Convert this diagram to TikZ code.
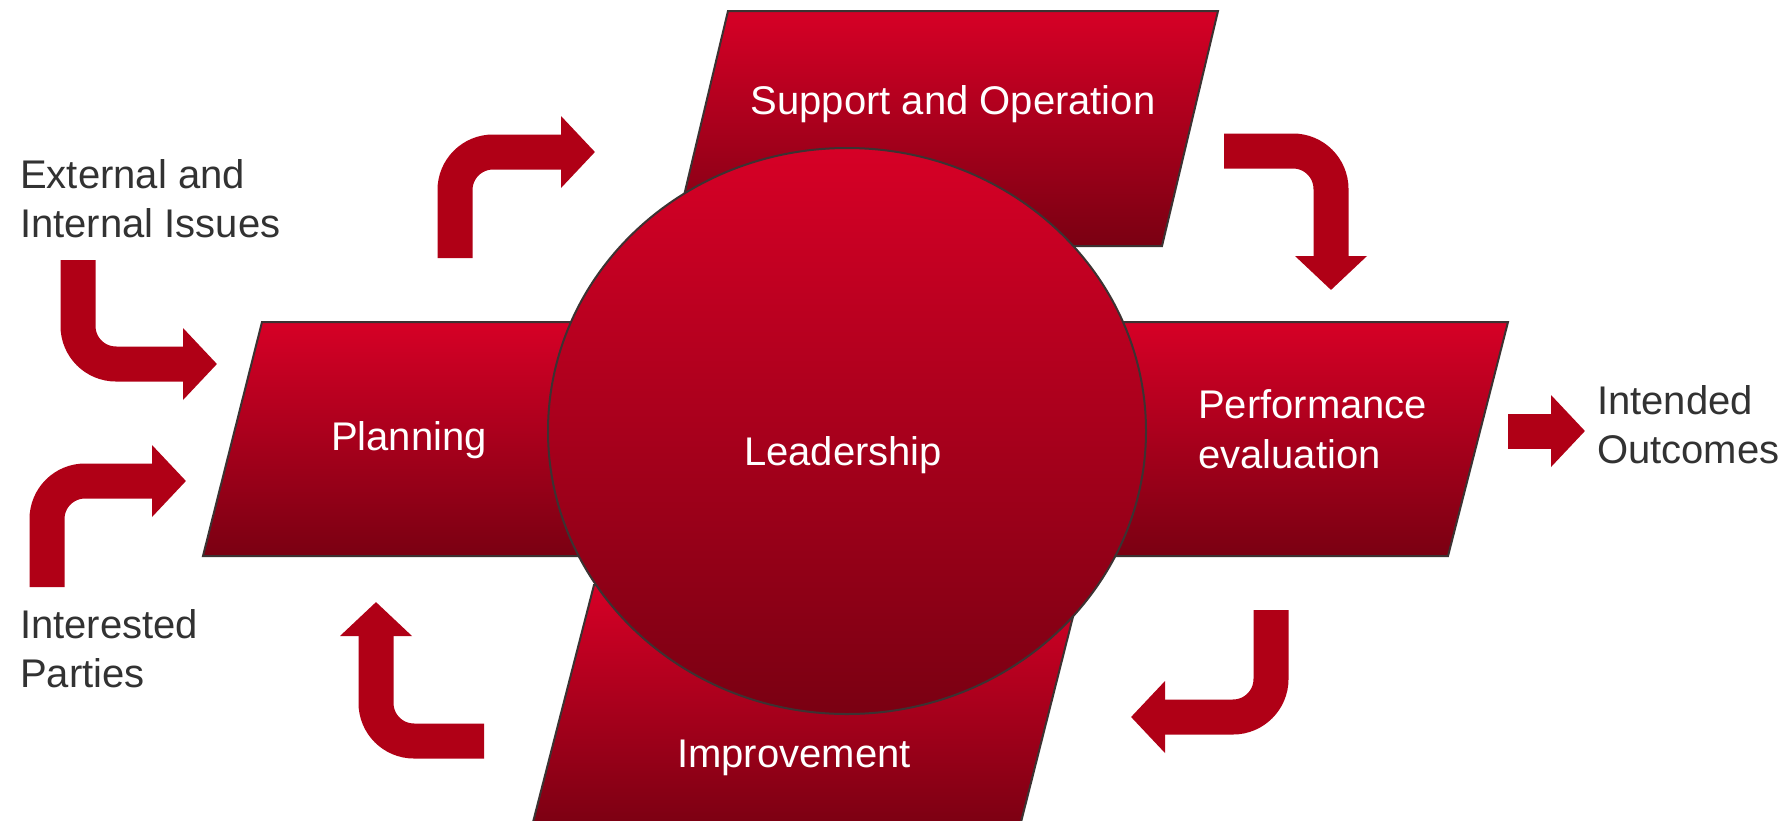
\documentclass[tikz,border=0pt]{standalone}
\usepackage{fontspec}
\setmainfont{Liberation Sans}
\usetikzlibrary{arrows.meta,shapes.geometric}
\definecolor{rtop}{RGB}{214,0,38}
\definecolor{rmid}{RGB}{194,0,31}
\definecolor{rbot}{RGB}{122,0,18}
\definecolor{arrowred}{RGB}{176,0,22}
\definecolor{edgec}{RGB}{60,50,50}
\definecolor{txtc}{RGB}{50,50,50}
\begin{document}
\begin{tikzpicture}[x=1pt,y=-1pt,
  panel/.style={draw=edgec, line width=2pt, top color=rtop, middle color=rmid, bottom color=rbot},
  bigarrow/.style={draw=arrowred, line width=35pt, rounded corners=38pt, -{Triangle[length=34pt,width=70pt]}},
  wtext/.style={text=white, font=\fontsize{40}{50}\selectfont, inner sep=0pt},
  dtext/.style={text=txtc, font=\fontsize{40}{49}\selectfont, inner sep=0pt, align=left},
]
\useasboundingbox (0,0) rectangle (1791,820);
\fill[white] (0,0) rectangle (1791,820);

% panels
\path[panel] (728,11) -- (1218,11) -- (1162,246) -- (672,246) -- cycle;
\path[panel] (262,322) -- (720,322) -- (661,556) -- (203,556) -- cycle;
\path[panel] (1050,322) -- (1508,322) -- (1448,556) -- (990,556) -- cycle;
\path[panel] (594,585) -- (1081,585) -- (1019,830) -- (531,830) -- cycle;

% central ellipse
\node[ellipse, panel, minimum width=598pt, minimum height=566pt, inner sep=0pt] (lead) at (847,431) {};

% texts
\node[wtext] (sup) at (953,104) {Support and Operation};
\node[wtext] (plan) at (409,440) {Planning};
\node[wtext] (leadt) at (843,455) {Leadership};
\node[wtext] (imp) at (794,758) {Improvement};
\node[wtext, align=left, anchor=base west] (perf) at (1198,468) {Performance\\evaluation};
\node[dtext, anchor=base west] (ext) at (20,237) {External and\\Internal Issues};
\node[dtext, anchor=base west] (intp) at (20,687) {Interested\\Parties};
\node[dtext, anchor=base west] (outc) at (1597,463) {Intended\\Outcomes};

% arrows
\coordinate (a1s) at (78,260);   \coordinate (a1c) at (78,364);   \coordinate (a1e) at (217,364);
\coordinate (a2s) at (47,587);   \coordinate (a2c) at (47,481);   \coordinate (a2e) at (186,481);
\coordinate (a3s) at (455,258);  \coordinate (a3c) at (455,152);  \coordinate (a3e) at (595,152);
\coordinate (a4s) at (1224,151); \coordinate (a4c) at (1331,151); \coordinate (a4e) at (1331,290);
\coordinate (a5s) at (1271,610); \coordinate (a5c) at (1271,717); \coordinate (a5e) at (1131,717);
\coordinate (a6s) at (484,741);  \coordinate (a6c) at (376,741);  \coordinate (a6e) at (376,602);
\coordinate (a7s) at (1508,431); \coordinate (a7e) at (1585,431);

\draw[bigarrow] (a1s) -- (a1c) -- (a1e);
\draw[bigarrow] (a2s) -- (a2c) -- (a2e);
\draw[bigarrow] (a3s) -- (a3c) -- (a3e);
\draw[bigarrow] (a4s) -- (a4c) -- (a4e);
\draw[bigarrow] (a5s) -- (a5c) -- (a5e);
\draw[bigarrow] (a6s) -- (a6c) -- (a6e);
\draw[bigarrow] (a7s) -- (a7e);
\end{tikzpicture}
\end{document}
